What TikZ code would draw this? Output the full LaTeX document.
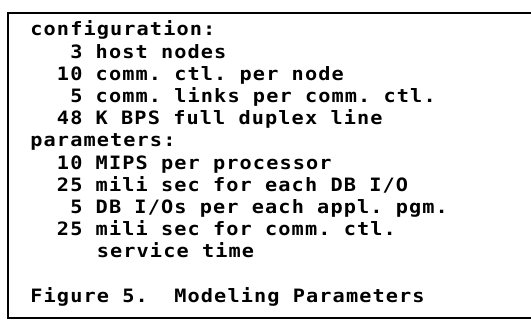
\documentclass[tikz,border=0pt]{standalone}
\usepackage{fontspec}
\newfontfamily\prtfont[FakeStretch=1.1, LetterSpace=6]{DejaVu Sans Mono}

\begin{document}
\begin{tikzpicture}[x=0.5pt, y=-0.5pt, every node/.style={font=\prtfont\bfseries\fontsize{9.2}{11}\selectfont\frenchspacing}, ln/.style={anchor=base west, inner sep=0pt}]
	\useasboundingbox (0,0) rectangle (531,324);
	% frame, open on the right
	\draw[line width=1.2pt] (531,13) -- (8,13) -- (8,318) -- (531,318);
	\node[ln] (cfg) at (30,36) {configuration:};
	\node[ln] (host) at (30,58.2) {\ \ \ 3 host nodes};
	\node[ln] (ctl) at (30,80.4) {\ \ 10 comm. ctl. per node};
	\node[ln] (links) at (30,102.6) {\ \ \ 5 comm. links per comm. ctl.};
	\node[ln] (line) at (30,124.8) {\ \ 48 K BPS full duplex line};
	\node[ln] (par) at (30,147) {parameters:};
	\node[ln] (mips) at (30,169.2) {\ \ 10 MIPS per processor};
	\node[ln] (dbio) at (30,191.4) {\ \ 25 mili sec for each DB I/O};
	\node[ln] (pgm) at (30,213.6) {\ \ \ 5 DB I/Os per each appl. pgm.};
	\node[ln] (svc) at (30,235.8) {\ \ 25 mili sec for comm. ctl.};
	\node[ln] (svt) at (30,258) {\ \ \ \ \ service time};
	\node[ln] (fig) at (30,302.4) {Figure 5.\ \ Modeling Parameters};
\end{tikzpicture}
\end{document}
